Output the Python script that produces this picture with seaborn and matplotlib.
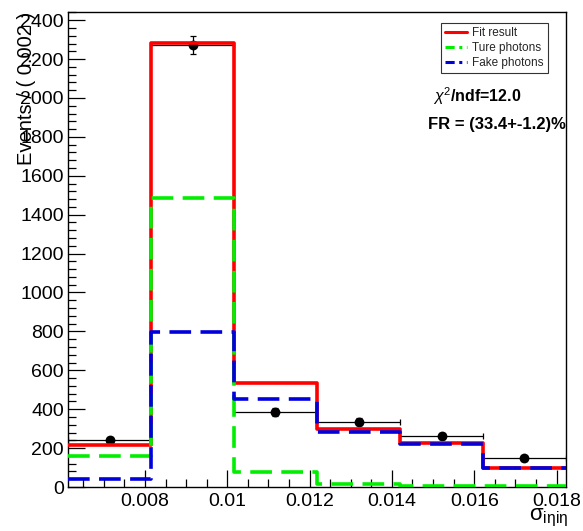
import numpy as np
import pandas as pd
import matplotlib
matplotlib.use("Agg")
import matplotlib.pyplot as plt
from matplotlib.lines import Line2D
from matplotlib.ticker import MultipleLocator
import seaborn as sns

# ---- data ----
bin_edges = [0.00613, 0.00815, 0.01016, 0.01218, 0.01420, 0.01621, 0.01823]
data_counts = [240, 2272, 384, 336, 261, 147]
fit_result = [214, 2284, 533, 300, 228, 99]
true_photons = [161, 1484, 75, 14, 5, 3]
fake_photons = [43, 797, 452, 283, 221, 97]
legend_labels = ["Fit result", "Ture photons", "Fake photons"]
y_ticks = [0, 200, 400, 600, 800, 1000, 1200, 1400, 1600, 1800, 2000, 2200, 2400]
x_ticks = [0.008, 0.01, 0.012, 0.014, 0.016, 0.018]
x_tick_labels = ["0.008", "0.01", "0.012", "0.014", "0.016", "0.018"]

sns.set_theme(style="ticks")
plt.rcParams["font.family"] = ["Liberation Sans", "DejaVu Sans"]
plt.rcParams["mathtext.fontset"] = "custom"
plt.rcParams["mathtext.rm"] = "Liberation Sans"
plt.rcParams["mathtext.it"] = "Liberation Sans:italic"
plt.rcParams["mathtext.bf"] = "Liberation Sans:bold"

edges = np.array(bin_edges)
centers = (edges[:-1] + edges[1:]) / 2
half_w = (edges[1:] - edges[:-1]) / 2

df = pd.DataFrame({
    "x": centers,
    "data": data_counts,
    "fit": fit_result,
    "true": true_photons,
    "fake": fake_photons,
})

fig = plt.figure(figsize=(5.83, 5.31), dpi=100)
ax = fig.add_axes([68 / 583, 1 - 487 / 531, (566 - 68) / 583, (487 - 12) / 531])

# data points
ax.errorbar(df["x"], df["data"], xerr=half_w, yerr=np.sqrt(df["data"]),
            fmt="none", ecolor="black", elinewidth=0.9, capsize=2.5, capthick=0.9, zorder=2)
sns.scatterplot(data=df, x="x", y="data", ax=ax, color="black", s=50,
                edgecolor="black", linewidth=0, zorder=3, legend=False)

# step histograms
step_kw = dict(bins=list(bin_edges), element="step", fill=False, ax=ax)
sns.histplot(data=df, x="x", weights="fit", color="#ff0000", linewidth=2.6, zorder=4, **step_kw)
sns.histplot(data=df, x="x", weights="true", color="#00ee00", linewidth=2.6,
             linestyle=(0, (6, 2.6)), zorder=5, **step_kw)
sns.histplot(data=df, x="x", weights="fake", color="#0000dd", linewidth=2.6,
             linestyle=(0, (6, 2.6)), zorder=6, **step_kw)

ax.set_xlim(edges[0], edges[-1])
ax.set_ylim(0, 2442)
ax.set_xticks(x_ticks)
ax.set_xticklabels(x_tick_labels)
ax.set_yticks(y_ticks)
ax.xaxis.set_minor_locator(MultipleLocator(0.0005))
ax.yaxis.set_minor_locator(MultipleLocator(40))
ax.tick_params(axis="both", which="major", direction="in", length=12, width=0.9,
               labelsize=14, color="black", labelcolor="black")
ax.tick_params(axis="both", which="minor", direction="in", length=6, width=0.9, color="black")
ax.tick_params(axis="x", which="major", pad=4)
ax.tick_params(axis="y", which="major", pad=3)
for s in ax.spines.values():
    s.set_visible(True)
    s.set_color("black")
    s.set_linewidth(1.0)
ax.set_xlabel("")
ax.set_ylabel("")

fig.text(27 / 583, 1 - 12 / 531, "Events / ( 0.002 )", rotation=90, ha="center", va="top",
         fontsize=14.5, color="black")
fig.text(568 / 583, 1 - 518 / 531, r"$\mathrm{\sigma}_{\mathrm{i\eta i\eta}}$", ha="right", va="center",
         fontsize=16, color="black")

handles = [
    Line2D([], [], color="#ff0000", linewidth=2.2),
    Line2D([], [], color="#00ee00", linewidth=2.2, linestyle=(0, (3, 1.5, 1, 1.5))),
    Line2D([], [], color="#0000dd", linewidth=2.2, linestyle=(0, (3, 1.5, 1, 1.5))),
]
leg = ax.legend(handles, legend_labels, loc="upper right", bbox_to_anchor=(0.964, 0.977),
                borderaxespad=0, fontsize=8.5, frameon=True, fancybox=False,
                handlelength=1.8, handletextpad=0.5, labelspacing=0.25, borderpad=0.35)
leg.get_frame().set_edgecolor("black")
leg.get_frame().set_linewidth(0.8)

ax.text(0.822, 0.823, r"$\chi^{2}$/ndf=12.0", transform=ax.transAxes, ha="center", va="center",
        fontsize=11.5, fontweight="bold", color="black")
ax.text(1.0, 0.764, "FR = (33.4+-1.2)%", transform=ax.transAxes, ha="right", va="center",
        fontsize=12, fontweight="bold", color="black")

fig.savefig("out.png", dpi=100)
